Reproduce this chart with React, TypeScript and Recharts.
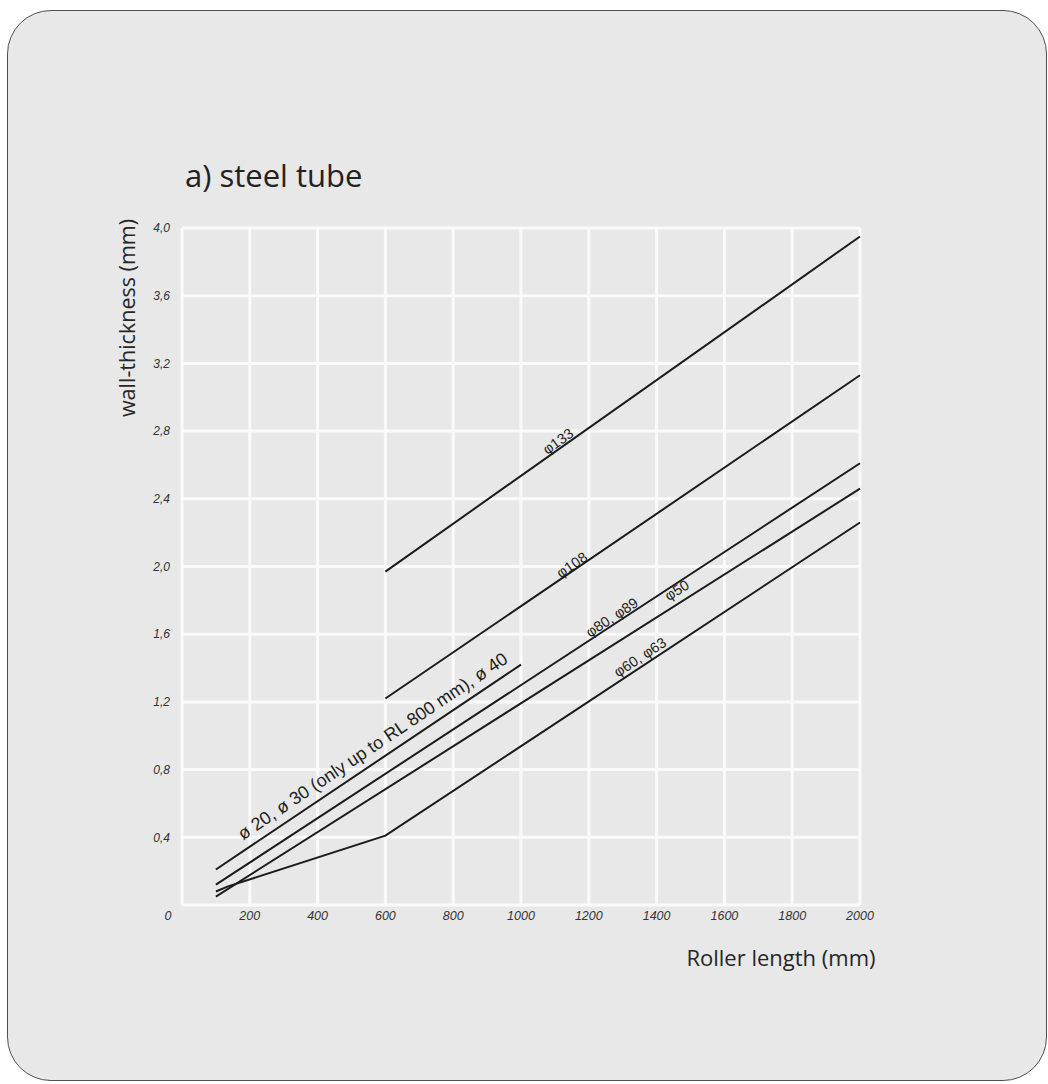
import { CartesianGrid, Line, LineChart, ReferenceDot, XAxis, YAxis } from "recharts";

// axis ticks
const rollerLength = [0, 200, 400, 600, 800, 1000, 1200, 1400, 1600, 1800, 2000];
const wallThickness = [0.4, 0.8, 1.2, 1.6, 2.0, 2.4, 2.8, 3.2, 3.6, 4.0];

// tube curves (length in mm, wall in mm)
const phi133 = [
  { length: 600, wall: 1.97 },
  { length: 2000, wall: 3.95 },
];
const phi108 = [
  { length: 600, wall: 1.22 },
  { length: 2000, wall: 3.13 },
];
const phi80_89 = [
  { length: 100, wall: 0.12 },
  { length: 2000, wall: 2.61 },
];
const phi50 = [
  { length: 100, wall: 0.05 },
  { length: 2000, wall: 2.46 },
];
const phi60_63 = [
  { length: 100, wall: 0.08 },
  { length: 136, wall: 0.11 },
  { length: 600, wall: 0.41 },
  { length: 2000, wall: 2.26 },
];
const phi20_40 = [
  { length: 100, wall: 0.21 },
  { length: 1000, wall: 1.42 },
];

const curves = [
  { name: "ø133", data: phi133 },
  { name: "ø108", data: phi108 },
  { name: "ø80, ø89", data: phi80_89 },
  { name: "ø50", data: phi50 },
  { name: "ø60, ø63", data: phi60_63 },
  { name: "ø20, ø30, ø40", data: phi20_40 },
];

// text written along the curves
const curveLabels = [
  { text: "φ133", length: 1109, wall: 2.74, along: phi133, size: 14.5 },
  { text: "φ108", length: 1150, wall: 2.01, along: phi108, size: 14.5 },
  { text: "φ80, φ89", length: 1268, wall: 1.7, along: phi80_89, size: 14.5 },
  { text: "φ50", length: 1460, wall: 1.86, along: phi50, size: 14.5 },
  { text: "φ60, φ63", length: 1351, wall: 1.465, along: phi60_63, size: 14.5 },
  { text: "ø 20, ø 30 (only up to RL 800 mm), ø 40", length: 562, wall: 0.94, along: phi20_40, size: 18 },
];

const W = 1048;
const H = 1084;
const margin = { top: 228, right: 188, bottom: 149, left: 142 };
const Y_AXIS_W = 40;
const X_AXIS_H = 30;
const plotW = W - margin.left - margin.right - Y_AXIS_W;
const plotH = H - margin.top - margin.bottom - X_AXIS_H;
const X_MAX = 2000;
const Y_MAX = 4;

const ink = "#1b1b1b";
const tickFont = "'Liberation Sans', Arial, sans-serif";
const textFont = "'Open Sans', 'Noto Sans', sans-serif";

// angle of the last segment on screen
function slopeAngle(pts: { length: number; wall: number }[]) {
  const a = pts[pts.length - 2];
  const b = pts[pts.length - 1];
  const dx = ((b.length - a.length) * plotW) / X_MAX;
  const dy = ((b.wall - a.wall) * plotH) / Y_MAX;
  return (-Math.atan2(dy, dx) * 180) / Math.PI;
}

function LengthTick(props: any) {
  const { x, y, payload } = props;
  const v = payload.value;
  return (
    <text
      x={v === 0 ? x - 14 : x}
      y={y + 3}
      dy="0.35em"
      textAnchor="middle"
      fontFamily={tickFont}
      fontStyle="italic"
      fontSize={12.5}
      fill="#333"
    >
      {v}
    </text>
  );
}

function ThicknessTick(props: any) {
  const { x, y, payload } = props;
  return (
    <text
      x={x - 4}
      y={y}
      dy="0.35em"
      textAnchor="end"
      fontFamily={tickFont}
      fontStyle="italic"
      fontSize={12}
      fill="#333"
    >
      {payload.value.toFixed(1).replace(".", ",")}
    </text>
  );
}

export default function App() {
  return (
    <div style={{ position: "absolute", left: 0, top: 0, width: W, height: H, background: "#fff" }}>
      <div
        style={{
          position: "absolute",
          left: 7,
          top: 10,
          width: 1040,
          height: 1071,
          border: "1.5px solid #4f4f4f",
          borderRadius: 44,
          background: "#e8e8e8",
          boxSizing: "border-box",
        }}
      />
      <div style={{ position: "absolute", left: 0, top: 0 }}>
        <LineChart width={W} height={H} margin={margin}>
          <CartesianGrid stroke="#fafafa" strokeWidth={3} />
          <XAxis
            type="number"
            dataKey="length"
            domain={[0, X_MAX]}
            ticks={rollerLength}
            height={X_AXIS_H}
            axisLine={false}
            tickLine={false}
            tick={<LengthTick />}
            interval={0}
          />
          <YAxis
            type="number"
            dataKey="wall"
            domain={[0, Y_MAX]}
            ticks={wallThickness}
            width={Y_AXIS_W}
            axisLine={false}
            tickLine={false}
            tick={<ThicknessTick />}
            interval={0}
          />
          {curves.map((c) => (
            <Line
              key={c.name}
              name={c.name}
              data={c.data}
              dataKey="wall"
              type="linear"
              stroke={ink}
              strokeWidth={2}
              dot={false}
              activeDot={false}
              isAnimationActive={false}
            />
          ))}
          {curveLabels.map((l) => {
            const angle = slopeAngle(l.along);
            return (
              <ReferenceDot
                key={l.text}
                x={l.length}
                y={l.wall}
                r={0}
                shape={(p: any) => (
                  <text
                    x={p.cx}
                    y={p.cy}
                    dy="0.35em"
                    transform={`rotate(${angle} ${p.cx} ${p.cy})`}
                    textAnchor="middle"
                    fontFamily={tickFont}
                    fontSize={l.size}
                    fill="#1e1e1e"
                  >
                    {l.text}
                  </text>
                )}
              />
            );
          })}
        </LineChart>
      </div>
      <svg width={W} height={H} style={{ position: "absolute", left: 0, top: 0, pointerEvents: "none" }}>
        <text x={185} y={187} fontFamily={textFont} fontSize={31} fill="#222">
          a) steel tube
        </text>
        <text
          x={135}
          y={318}
          transform="rotate(-90 135 318)"
          textAnchor="middle"
          fontFamily={textFont}
          fontSize={21.5}
          fill="#262626"
        >
          wall-thickness (mm)
        </text>
        <text x={781} y={966} textAnchor="middle" fontFamily={textFont} fontSize={22} fill="#262626">
          Roller length (mm)
        </text>
      </svg>
    </div>
  );
}
